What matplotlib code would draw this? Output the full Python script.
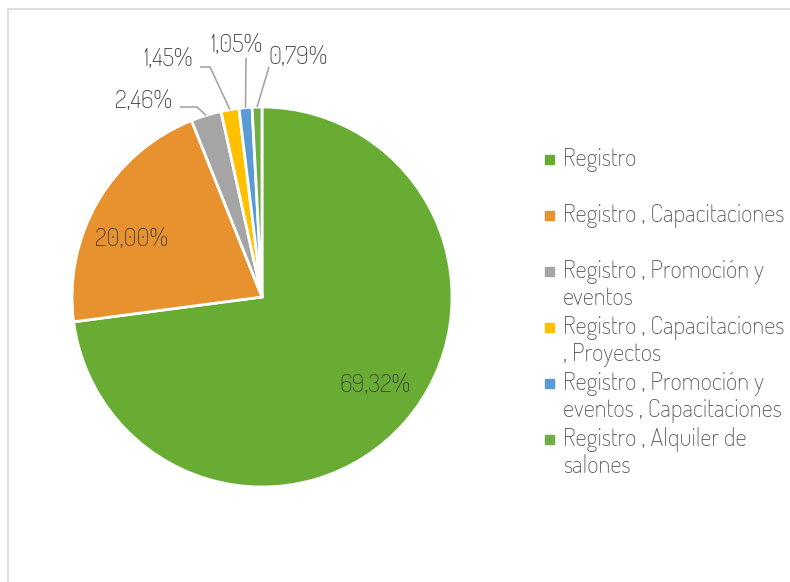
import matplotlib.pyplot as plt
from matplotlib import font_manager
from matplotlib.patches import Rectangle
import numpy as np

# data
categories = ["Registro", "Registro , Capacitaciones", "Registro , Promoción y\neventos",
              "Registro , Capacitaciones\n, Proyectos", "Registro , Promoción y\neventos , Capacitaciones",
              "Registro , Alquiler de\nsalones"]
values = [69.32, 20.00, 2.46, 1.45, 1.05, 0.79]
colors = ["#68ac34", "#e8912f", "#a5a5a5", "#ffc000", "#5b9bd5", "#70ad47"]

W, H = 790, 582

installed = {f.name for f in font_manager.fontManager.ttflist}
font = next((n for n in ["Dosis", "Saira Semi Condensed", "Roboto Condensed"] if n in installed),
            "DejaVu Sans")
stretch = "normal" if font != "DejaVu Sans" else "condensed"

def py(y):
    # pixel row (top down) -> data y
    return H - y

fig = plt.figure(figsize=(W / 100, H / 100), dpi=100)
ax = fig.add_axes([0, 0, 1, 1])

cx, cy, r = 262, py(297), 190
wedges, _ = ax.pie(values, colors=colors, startangle=90, counterclock=False,
                   center=(cx, cy), radius=r, frame=True,
                   wedgeprops=dict(edgecolor="white", linewidth=2))
ax.set_xlim(0, W)
ax.set_ylim(0, H)
ax.set_aspect("equal")
ax.axis("off")

# chart frame
ax.add_patch(Rectangle((8, -10), W, py(9) + 10, fill=False, edgecolor="#d9d9d9", lw=1.2))

labels = [f"{v:.2f}%".replace(".", ",") for v in values]
txt = dict(fontsize=18, color="#404040", family=font, fontstretch=stretch,
           ha="center", va="center")

# labels inside the two big slices
ax.text(375, py(385), labels[0], **txt)
ax.text(131, py(240), labels[1], **txt)

# small slices with leader lines: label position, elbow point
small = [(2, (144, 101), (180, 107), (197, 107)),
         (3, (168, 60), (200, 67), (210, 67)),
         (4, (237, 46), (246, 58), (246, 58)),
         (5, (298, 57), (269, 67), (269, 67))]
for i, lab_xy, p0, p1 in small:
    w = wedges[i]
    mid = np.deg2rad((w.theta1 + w.theta2) / 2)
    ex, ey = cx + r * np.cos(mid), cy + r * np.sin(mid)
    ax.text(lab_xy[0], py(lab_xy[1]), labels[i], **txt)
    ax.plot([p0[0], p1[0], ex], [py(p0[1]), py(p1[1]), ey], color="#a6a6a6", lw=1.2,
            solid_capstyle="butt")

# legend
leg_y = [159, 215, 271, 327, 383, 439]
for c, lab, y in zip(colors, categories, leg_y):
    ax.add_patch(Rectangle((545, py(y) - 4.5), 9, 9, color=c))
    ax.text(563, py(y) + 12, lab, fontsize=17.8, color="#595959", family=font,
            fontstretch=stretch, ha="left", va="top", linespacing=1.13)

fig.savefig("out.png", dpi=100)
